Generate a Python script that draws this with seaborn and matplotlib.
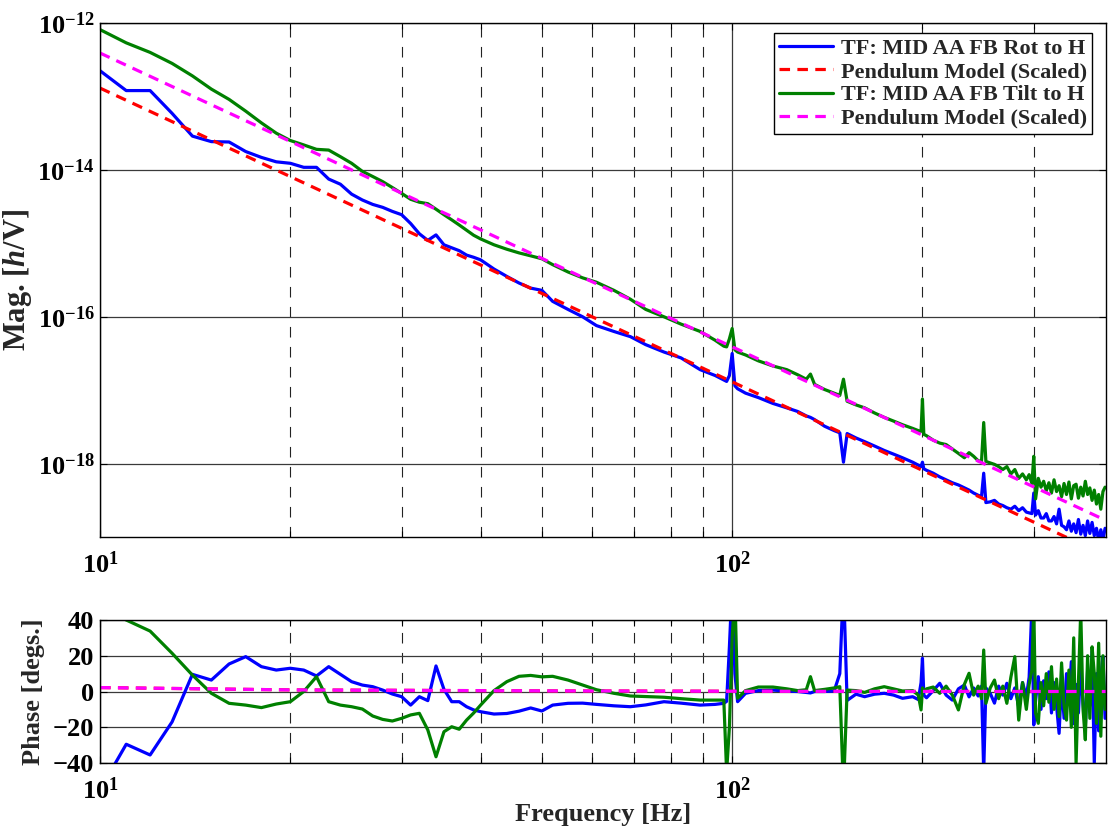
"""
plot.py
=======
MID AA FB transfer functions (Rot / Tilt to h) against the scaled pendulum
model: magnitude (log-log) on top, phase underneath.
"""

import numpy as np
import matplotlib
matplotlib.use("Agg")
import matplotlib.pyplot as plt
import seaborn as sns
from matplotlib.ticker import FixedLocator, NullLocator, LogLocator


# ─── Data ────────────────────────────────────────────────────────────────────

freq = [
    10, 11, 12, 13, 14, 15, 16, 17, 18, 19, 20, 21, 22, 23, 24, 25, 26, 27,
    28, 29, 30, 31, 32, 33, 34, 35, 36, 37, 38, 39, 40, 42, 44, 46, 48, 50,
    52, 55, 58, 61, 65, 69, 73, 78, 83, 89, 94, 97, 98, 99, 100, 101, 102,
    105, 110, 116, 122, 127, 131, 133, 135, 140, 145, 148, 150, 152, 157,
    162, 168, 174, 180, 186, 193, 197, 199, 200, 201, 203, 208, 213, 218,
    223, 228, 233, 237, 241, 245, 248, 250, 252, 256, 260, 264, 268, 272,
    276, 280, 284, 288, 292, 295, 298, 300, 302, 305, 308, 311, 314, 317,
    320, 323, 326, 329, 332, 335, 338, 341, 344, 347, 350, 353, 356, 359,
    362, 365, 368, 371, 374, 377, 380, 383, 386, 389,
]

# log10 of |TF| in h/V
rot_mag_log = [
    -12.65, -12.92, -12.92, -13.23, -13.54, -13.615, -13.62, -13.75, -13.83,
    -13.89, -13.91, -13.965, -13.965, -14.125, -14.195, -14.33, -14.41,
    -14.47, -14.51, -14.565, -14.61, -14.73, -14.87, -14.96, -14.885,
    -15.02, -15.06, -15.10, -15.16, -15.19, -15.225, -15.35, -15.45, -15.54,
    -15.61, -15.64, -15.79, -15.90, -16.00, -16.12, -16.20, -16.27, -16.38,
    -16.48, -16.56, -16.72, -16.80, -16.86, -16.88, -16.80, -16.50, -16.94,
    -16.98, -17.04, -17.10, -17.18, -17.24, -17.29, -17.35, -17.37, -17.40,
    -17.49, -17.55, -17.58, -17.98, -17.59, -17.65, -17.70, -17.76, -17.82,
    -17.87, -17.92, -17.98, -18.02, -18.04, -17.98, -18.07, -18.09, -18.13,
    -18.18, -18.22, -18.26, -18.29, -18.33, -18.36, -18.40, -18.43, -18.45,
    -18.13, -18.53, -18.52, -18.50, -18.55, -18.57, -18.60, -18.62, -18.58,
    -18.64, -18.60, -18.66, -18.67, -18.68, -18.40, -18.70, -18.64, -18.74,
    -18.74, -18.68, -18.78, -18.78, -18.72, -18.82, -18.62, -18.84, -18.86,
    -18.90, -18.78, -18.92, -18.82, -18.94, -18.76, -18.96, -18.84, -18.98,
    -18.78, -18.95, -18.80, -18.98, -18.88, -19.05, -18.90, -19.04, -18.88,
]

tilt_mag_log = [
    -12.09, -12.27, -12.40, -12.55, -12.72, -12.90, -13.04, -13.20, -13.36,
    -13.50, -13.60, -13.66, -13.72, -13.73, -13.82, -13.91, -14.02, -14.09,
    -14.16, -14.24, -14.32, -14.40, -14.44, -14.46, -14.535, -14.61, -14.68,
    -14.75, -14.82, -14.89, -14.94, -15.02, -15.08, -15.13, -15.17, -15.21,
    -15.29, -15.39, -15.47, -15.53, -15.64, -15.76, -15.90, -16.00, -16.10,
    -16.20, -16.32, -16.40, -16.41, -16.30, -16.16, -16.45, -16.48, -16.52,
    -16.60, -16.67, -16.72, -16.79, -16.85, -16.78, -16.92, -16.99, -17.04,
    -17.07, -16.85, -17.15, -17.20, -17.24, -17.31, -17.37, -17.42, -17.47,
    -17.52, -17.55, -17.56, -17.12, -17.60, -17.62, -17.68, -17.72, -17.74,
    -17.80, -17.86, -17.92, -17.85, -17.90, -17.96, -17.97, -17.44, -17.97,
    -17.99, -18.01, -18.04, -18.08, -18.04, -18.14, -18.08, -18.20, -18.14,
    -18.22, -18.15, -18.27, -17.90, -18.48, -18.20, -18.32, -18.24, -18.37,
    -18.26, -18.40, -18.22, -18.38, -18.30, -18.45, -18.27, -18.42, -18.25,
    -18.48, -18.30, -18.28, -18.47, -18.32, -18.44, -18.24, -18.42, -18.33,
    -18.50, -18.36, -18.55, -18.42, -18.62, -18.38, -18.32,
]

# phase in degrees
rot_phase = [
    -55, -29.5, -35.5, -17, 9.6, 6.4, 15.4, 19.5, 13.9, 12.0, 13.0, 12.0,
    8.7, 13.9, 9.6, 5.5, 3.6, 2.7, 0.8, -1.4, -2.9, -7.6, -2.9, -5.1, 14.3,
    1.2, -5.7, -5.7, -8.5, -10.3, -11.3, -12.6, -12.3, -11.0, -9.2, -10.9,
    -7.6, -6.6, -6.5, -7.2, -8.0, -8.5, -7.5, -5.7, -6.5, -7.6, -7.2, -6.6,
    -5.5, 25, 60, 10, -5.7, -1.0, 0.5, 0.8, 0.2, 0.0, -0.5, -0.8, 0.0, 0.0,
    0.3, 10, 60, -5, -1.5, -2.9, -1.5, -1.0, -2.0, -3.8, -2.9, -4.5, 5,
    18.6, -2, -3.5, 0.5, 4.6, -2, -4.8, 1.5, 3.6, -3.0, 2.0, -2.5, 3.0, -45,
    2.0, -1.0, -6.5, 3.0, -2.0, 4.6, -4.0, 2.0, -8.5, 5.0, -3.0, 8.0, 48,
    -18.7, -5, 8.3, -10, 6, -4, 11, -12, 5, -8, -23.4, 6, -15, 10, -5, 16.7,
    -18, 4, -12, 14, -6.6, -20, 12, -8, 22.3, -40, 10, -22, 8, 19.5, -15,
]

tilt_phase = [
    48, 40, 33.8, 21.4, 9.2, -1.0, -6.6, -7.6, -9.0, -7.0, -5.7, 0.0, 8.3,
    -5.7, -7.6, -8.5, -9.8, -13.7, -15.6, -16.5, -15.0, -13.1, -12.2, -21.5,
    -36.5, -22.5, -19.7, -21.1, -16, -12, -7.6, 0.5, 5.5, 8.5, 9.0, 8.2, 8.5,
    6.4, 3.6, 1.0, -1.0, -2.5, -2.8, -3.2, -4.0, -4.8, -4.8, -4.8, -45, -20,
    30, 55, -3.8, 0.5, 2.5, 2.5, 1.5, 0.5, 1.0, 8.3, 0.5, 1.2, 2.0, 2.7, -55,
    0.8, 0.5, -0.5, 1.5, 2.7, 1.5, 0.3, 0.5, -2.0, -10.3, 2, 0, 1.5, 2.5,
    -1.0, 3.0, -2.0, -10.3, 4.0, 10.2, -2.0, 3.0, -4.0, 23.2, -6.6, 2.0, 6.4,
    -4.0, 3.0, -6.6, 8.0, 19.5, -16, 5.0, -10, 4.0, 12, 48, -12, -17.8, 5,
    -8, 10, -6, 13.9, -10, 7, -14, 16, -8, -16, 12, -20, 30, -40, 5, 45, -10,
    -27, 20, -15, 25, 10, -17.8, 27, -25, 20, -10,
]

# scaled pendulum models (straight lines on log-log)
model_freq = [10, 20, 50, 100, 200, 390]
rot_model_mag = [1.3e-13, 8.1e-15, 2.08e-16, 1.3e-17, 8.1e-19, 5.6e-20]
tilt_model_mag = [3.9e-13, 2.44e-14, 6.24e-16, 3.9e-17, 2.44e-18, 1.69e-19]
model_phase = [2.2, 0.9, 0.35, 0.15, 0.05, 0.0]

labels = ["TF: MID AA FB Rot to H", "Pendulum Model (Scaled)",
          "TF: MID AA FB Tilt to H", "Pendulum Model (Scaled)"]

BLUE, RED, GREEN, MAGENTA = "#0000ff", "#ff0000", "#008000", "#ff00ff"


# ─── Style ───────────────────────────────────────────────────────────────────

sns.set_theme(style="ticks")
plt.rcParams.update({
    "font.family": ["Liberation Serif", "DejaVu Serif"],
    "font.weight": "bold",
    "axes.labelweight": "bold",
    "font.size": 16,
    "mathtext.fontset": "custom",
    "mathtext.rm": "Liberation Serif:bold",
    "mathtext.it": "Liberation Serif:italic:bold",
    "mathtext.bf": "Liberation Serif:bold",
    "mathtext.default": "rm",
    "axes.edgecolor": "black",
    "axes.linewidth": 1.0,
})

LW = 2.3
DASH = (3.3, 2.3)
TICK_FS = 19
LABEL_FS = 19


def style_axes(ax):
    ax.set_xscale("log")
    ax.set_xlim(10, 390)
    ax.xaxis.set_major_locator(FixedLocator([10, 100]))
    ax.xaxis.set_minor_locator(LogLocator(base=10, subs=np.arange(2, 10)))
    ax.tick_params(which="both", direction="in", top=True, right=True,
                   labelsize=TICK_FS, colors="black")
    ax.tick_params(which="major", length=5, width=0.8)
    ax.tick_params(which="minor", length=4, width=0.8)
    ax.tick_params(axis="x", which="major", pad=10)
    ax.tick_params(axis="y", which="major", pad=4)
    ax.grid(which="major", color="#3a3a3a", lw=0.9, ls="-")
    ax.grid(which="minor", axis="x", color="#222222", lw=0.8,
            ls=(0, (9.5, 8.5)))
    for lab in ax.get_xticklabels() + ax.get_yticklabels():
        lab.set_fontweight("bold")


# ─── Figure ──────────────────────────────────────────────────────────────────

fig = plt.figure(figsize=(11.08, 8.34), dpi=100)
ax_mag = fig.add_axes([0.0903, 0.356, 0.9077, 0.6164])
ax_ph = fig.add_axes([0.0903, 0.0851, 0.9077, 0.1715])

rot_mag = 10 ** np.array(rot_mag_log)
tilt_mag = 10 ** np.array(tilt_mag_log)

# magnitude
sns.lineplot(x=freq, y=rot_mag, ax=ax_mag, color=BLUE, lw=LW,
             estimator=None, sort=False, label=labels[0])
sns.lineplot(x=model_freq, y=rot_model_mag, ax=ax_mag, color=RED, lw=LW,
             estimator=None, sort=False, label=labels[1])
sns.lineplot(x=freq, y=tilt_mag, ax=ax_mag, color=GREEN, lw=LW,
             estimator=None, sort=False, label=labels[2])
sns.lineplot(x=model_freq, y=tilt_model_mag, ax=ax_mag, color=MAGENTA,
             lw=LW, estimator=None, sort=False, label=labels[3])
for ln in (ax_mag.lines[1], ax_mag.lines[3]):
    ln.set_dashes(DASH)

ax_mag.set_yscale("log")
style_axes(ax_mag)
ax_mag.set_ylim(1e-19, 1e-12)
ax_mag.yaxis.set_major_locator(FixedLocator([1e-18, 1e-16, 1e-14, 1e-12]))
ax_mag.yaxis.set_minor_locator(NullLocator())
ax_mag.set_xlabel("")
ax_mag.set_ylabel(r"Mag. [$\mathit{h}$/V]", fontsize=22, fontweight="bold")
ax_mag.yaxis.set_label_coords(-0.0656, 0.5)

leg = ax_mag.legend(loc="upper right", bbox_to_anchor=(0.9865, 0.981),
                    fontsize=16, frameon=True, fancybox=False,
                    edgecolor="black", framealpha=1.0, handlelength=2.4,
                    handletextpad=0.35, borderpad=0.25, labelspacing=0.12,
                    borderaxespad=0.0)
leg.get_frame().set_linewidth(1.0)
for txt in leg.get_texts():
    txt.set_fontweight("bold")

# phase
sns.lineplot(x=freq, y=rot_phase, ax=ax_ph, color=BLUE, lw=LW,
             estimator=None, sort=False, legend=False)
sns.lineplot(x=model_freq, y=model_phase, ax=ax_ph, color=RED, lw=LW,
             estimator=None, sort=False, legend=False)
sns.lineplot(x=freq, y=tilt_phase, ax=ax_ph, color=GREEN, lw=LW,
             estimator=None, sort=False, legend=False)
sns.lineplot(x=model_freq, y=model_phase, ax=ax_ph, color=MAGENTA, lw=LW,
             estimator=None, sort=False, legend=False)
for ln in (ax_ph.lines[1], ax_ph.lines[3]):
    ln.set_dashes(DASH)

style_axes(ax_ph)
ax_ph.set_ylim(-40, 40)
ax_ph.yaxis.set_major_locator(FixedLocator([-40, -20, 0, 20, 40]))
ax_ph.set_ylabel("Phase [degs.]", fontsize=LABEL_FS, fontweight="bold")
ax_ph.yaxis.set_label_coords(-0.0547, 0.5)
ax_ph.set_xlabel("Frequency [Hz]", fontsize=LABEL_FS, fontweight="bold")
ax_ph.xaxis.set_label_coords(0.5, -0.28)

fig.savefig("out.png", dpi=100)
plt.close(fig)
